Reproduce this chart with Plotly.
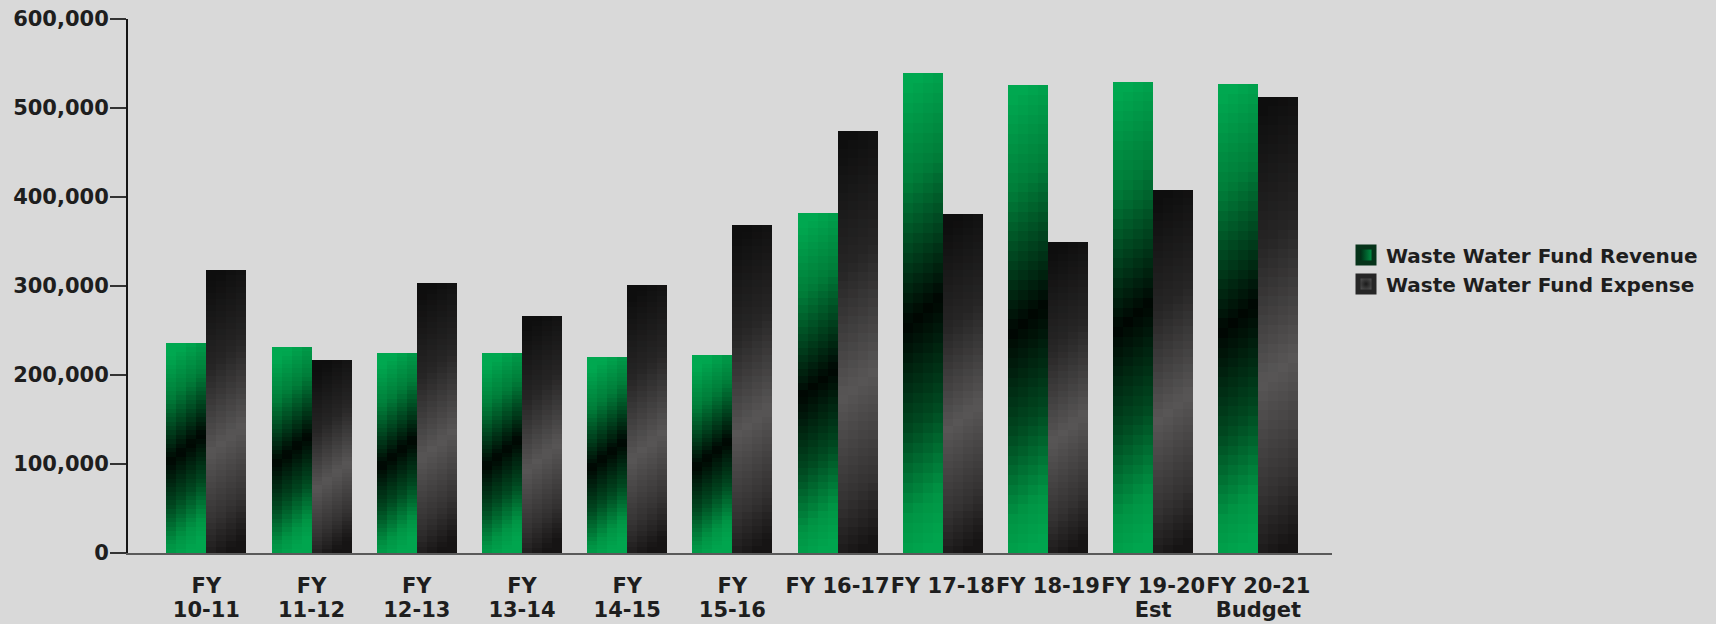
import plotly.graph_objects as go

# ---- data -------------------------------------------------------------
categories = ["FY 10-11", "FY 11-12", "FY 12-13", "FY 13-14", "FY 14-15", "FY 15-16",
              "FY 16-17", "FY 17-18", "FY 18-19", "FY 19-20 Est", "FY 20-21 Budget"]
tick_labels = ["FY<br>10-11", "FY<br>11-12", "FY<br>12-13", "FY<br>13-14", "FY<br>14-15",
               "FY<br>15-16", "FY 16-17", "FY 17-18", "FY 18-19", "FY 19-20<br>Est",
               "FY 20-21<br>Budget"]
revenue = [236000, 231500, 225000, 224500, 220500, 222000, 381500, 539000, 525500, 529500, 527000]
expense = [318500, 216500, 303500, 266500, 301000, 368000, 474000, 381000, 350000, 407500, 512500]
y_ticks = [0, 100000, 200000, 300000, 400000, 500000, 600000]

# ---- styling ----------------------------------------------------------
BG = "#d9d9d9"
TXT = "#1e1e1e"
FONT = dict(family="DejaVu Sans", size=21, color=TXT, weight="bold")
LEGEND_FONT = dict(family="DejaVu Sans", size=20, color=TXT, weight="bold")

MARGIN = dict(l=128, r=384, t=19, b=71)
FIG_W, FIG_H = 1716, 624
PLOT_H = FIG_H - MARGIN["t"] - MARGIN["b"]
Y_MAX = 600000
PX_PER_VAL = PLOT_H / Y_MAX

BAR_W = 0.38          # width of one bar in category units
N_ROWS = 48           # vertical gradient steps
N_COLS = 4            # horizontal steps (gives the slanted shading)
SLANT_PX = 33         # vertical shift of the shading across one bar
LINE1_STANDOFF = 13   # first line of the category labels
LINE2_STANDOFF = 42   # second line, set tighter than the default line height

# (position from top of bar, rgb)
REV_STOPS = [(0.0, (0, 168, 80)), (0.2, (0, 125, 57)), (0.5, (0, 6, 2)),
             (0.72, (0, 72, 32)), (0.9, (0, 148, 68)), (1.0, (0, 165, 78))]
EXP_STOPS = [(0.0, (14, 14, 14)), (0.3, (38, 37, 37)), (0.6, (88, 86, 86)),
             (0.85, (52, 50, 50)), (1.0, (22, 20, 20))]


def shade(stops, t):
    t = min(max(t, 0.0), 1.0)
    for (t0, c0), (t1, c1) in zip(stops[:-1], stops[1:]):
        if t <= t1:
            f = 0.0 if t1 == t0 else (t - t0) / (t1 - t0)
            r, g, b = (round(a + (b_ - a) * f) for a, b_ in zip(c0, c1))
            return f"rgb({r},{g},{b})"
    r, g, b = stops[-1][1]
    return f"rgb({r},{g},{b})"


fig = go.Figure()


def add_gradient_bars(values, offset, stops):
    """Each bar is built from overlapping bars: every row is a shorter bar
    drawn over the previous one, every column starts a little further right."""
    for k in range(N_ROWS):
        frac_top = k / N_ROWS
        t_row = (k + 0.5) / N_ROWS
        heights = [v * (1 - frac_top) for v in values]
        for j in range(N_COLS):
            u = (j + 0.5) / N_COLS
            colors = []
            for v in values:
                h_px = max(v * PX_PER_VAL, 1.0)
                colors.append(shade(stops, t_row + SLANT_PX * (u - 0.5) / h_px))
            fig.add_trace(go.Bar(
                x=categories, y=heights,
                offset=offset + j * BAR_W / N_COLS,
                width=BAR_W * (1 - j / N_COLS),
                marker=dict(color=colors, line=dict(width=0)),
                showlegend=False, hoverinfo="skip",
            ))


add_gradient_bars(revenue, -BAR_W, REV_STOPS)
add_gradient_bars(expense, 0.0, EXP_STOPS)

# legend entries
fig.add_trace(go.Scatter(
    x=[None], y=[None], mode="markers", name="Waste Water Fund Revenue",
    marker=dict(symbol="square", size=16, color="#001a0c",
                gradient=dict(type="horizontal", color="#00a04b"),
                line=dict(width=5, color="#06331a")),
))
fig.add_trace(go.Scatter(
    x=[None], y=[None], mode="markers", name="Waste Water Fund Expense",
    marker=dict(symbol="square", size=16, color="#555555",
                gradient=dict(type="radial", color="#1a1a1a"),
                line=dict(width=5, color="#262626")),
))

# category labels are written on two overlaid axes so the line gap can be set
label_line1 = [lbl.split("<br>")[0] for lbl in tick_labels]
label_line2 = [lbl.split("<br>")[1] if "<br>" in lbl else " " for lbl in tick_labels]
positions = list(range(len(categories)))
boundaries = [i + 0.5 for i in range(len(categories) - 1)]

# an empty trace so the second-line axis is laid out like a data axis
fig.add_trace(go.Scatter(x=[None], y=[None], xaxis="x3", yaxis="y",
                         showlegend=False, hoverinfo="skip", mode="markers"))

x_range = [-0.745, 10.7]

fig.update_layout(
    width=FIG_W, height=FIG_H,
    margin=dict(**MARGIN, autoexpand=False),
    paper_bgcolor=BG, plot_bgcolor=BG,
    font=FONT,
    barmode="overlay",
    bargap=0,
    showlegend=True,
    legend=dict(x=(1346 - MARGIN["l"]) / (FIG_W - MARGIN["l"] - MARGIN["r"]),
                xanchor="left", y=0.531, yanchor="middle",
                bgcolor="rgba(0,0,0,0)", font=LEGEND_FONT, tracegroupgap=0,
                itemsizing="trace"),
    xaxis=dict(type="category", categoryorder="array", categoryarray=categories,
               range=x_range, tickmode="array", tickvals=categories, ticktext=label_line1,
               ticks="", showline=True, linecolor="#5a5a5a", linewidth=2,
               showgrid=False, zeroline=False, ticklabelstandoff=LINE1_STANDOFF,
               tickangle=0, tickfont=FONT),
    # divider ticks between categories
    xaxis2=dict(overlaying="x", anchor="y", side="bottom", type="linear",
                range=x_range, tickmode="array", tickvals=boundaries,
                ticks="outside", ticklen=18, tickwidth=1.5, tickcolor="#333333",
                showticklabels=False, showline=False, showgrid=False, zeroline=False),
    # second label line
    xaxis3=dict(overlaying="x", anchor="y", side="bottom", type="linear",
                range=x_range, autorange=False, tickmode="array", tickvals=positions,
                ticktext=label_line2, ticks="", showticklabels=True,
                showline=False, showgrid=False, zeroline=False,
                ticklabelstandoff=LINE2_STANDOFF, tickangle=0, tickfont=FONT),
    yaxis=dict(range=[0, Y_MAX], tickmode="array", tickvals=y_ticks, tickformat=",",
               ticks="outside", ticklen=16, tickwidth=1.5, tickcolor="#333333",
               showline=True, linecolor="#151515", linewidth=2,
               showgrid=False, zeroline=False, tickfont=FONT, ticklabelstandoff=-3),
)

fig.write_html("out.html")
